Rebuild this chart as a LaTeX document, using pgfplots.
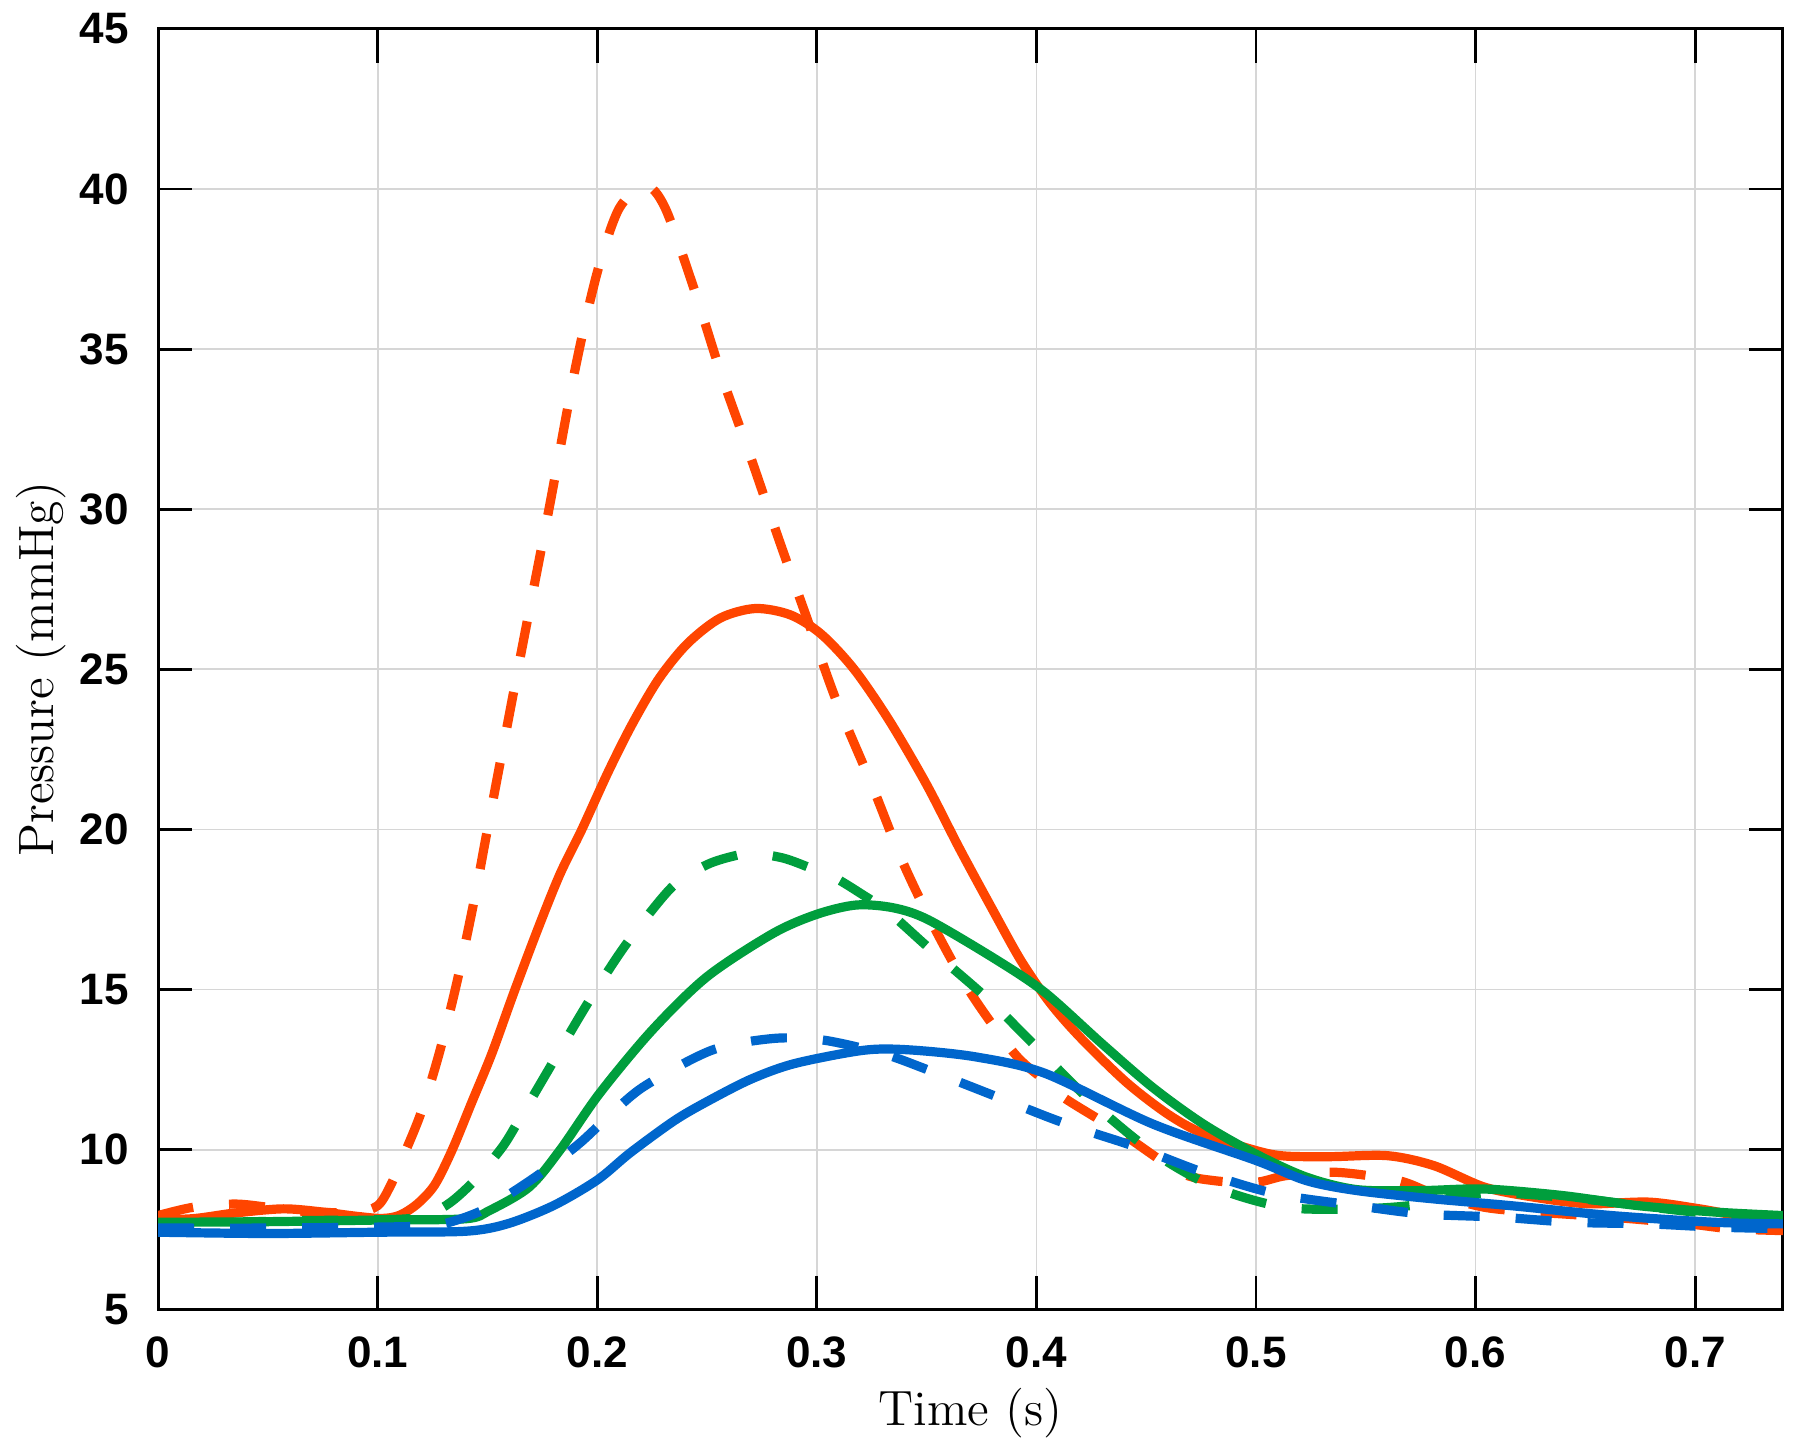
\documentclass[border=0pt]{standalone}
\usepackage{fontspec}
\usepackage{pgfplots}
\pgfplotsset{compat=1.18}
\newfontfamily\tickfont{Liberation Sans}
\definecolor{cRed}{RGB}{255,69,0}
\definecolor{cGreen}{RGB}{0,158,61}
\definecolor{cBlue}{RGB}{0,102,204}
\begin{document}
\begin{tikzpicture}
\begin{axis}[
  scale only axis, width=406pt, height=320pt,
  xmin=0, xmax=0.74, ymin=5, ymax=45,
  xtick={0,0.1,0.2,0.3,0.4,0.5,0.6,0.7},
  xticklabels={0,0.1,0.2,0.3,0.4,0.5,0.6,0.7},
  ytick={5,10,15,20,25,30,35,40,45},
  grid=major, major grid style={draw=black!16, line width=0.45pt},
  tick align=inside, major tick length=8.5pt,
  tick style={black, line width=0.7pt},
  axis line style={line width=0.75pt},
  /pgf/number format/assume math mode=true,
  ticklabel style={font=\tickfont\bfseries\fontsize{11}{13}\selectfont},
  xticklabel style={yshift=-3.3pt},
  yticklabel style={xshift=-3.8pt},
  xlabel={Time (s)}, ylabel={Pressure (mmHg)},
  label style={font=\fontsize{12.4}{15}\selectfont},
  xlabel style={at={([yshift=-29pt]axis description cs:0.5,0)}, anchor=base},
  ylabel style={at={([xshift=-26.25pt]axis description cs:0,0.5)}, anchor=base},
  every axis plot/.append style={line width=2.3pt, smooth, tension=0.5},
]
% red dashed
\addplot[cRed, dash pattern=on 9pt off 9pt] coordinates {
(0,7.94) (0.016,8.2) (0.035,8.3) (0.05,8.2) (0.07,8.05) (0.09,8.05) (0.1,8.25)
(0.106,8.9) (0.113,10.0) (0.12,11.2) (0.128,13.0) (0.136,15.2) (0.144,17.8)
(0.15,20.0) (0.165,25.4) (0.178,30.0) (0.19,34.4) (0.2,37.4) (0.21,39.4)
(0.222,40.1) (0.231,39.4) (0.244,36.9) (0.257,34.1) (0.27,31.6) (0.283,29.0)
(0.296,26.5) (0.309,24.0) (0.325,21.4) (0.339,19.0) (0.353,17.0) (0.37,14.9)
(0.39,13.0) (0.403,12.2) (0.413,11.6) (0.439,10.5) (0.465,9.3) (0.481,9.03)
(0.5,8.98) (0.514,9.19) (0.537,9.29) (0.565,9.03) (0.581,8.62) (0.604,8.2)
(0.627,8.05) (0.662,7.89) (0.697,7.68) (0.716,7.53) (0.74,7.47)
};
% red solid
\addplot[cRed] coordinates {
(0,7.8) (0.017,7.85) (0.035,8.02) (0.057,8.15) (0.075,8.05) (0.09,7.92)
(0.102,7.85) (0.11,7.95) (0.118,8.3) (0.126,8.9) (0.134,10.0) (0.143,11.5)
(0.152,13.0) (0.162,14.9) (0.173,16.9) (0.183,18.6) (0.193,20.0) (0.205,21.8)
(0.216,23.3) (0.228,24.7) (0.241,25.8) (0.256,26.6) (0.272,26.9) (0.288,26.7)
(0.302,26.1) (0.317,25.0) (0.333,23.4) (0.35,21.4) (0.365,19.4) (0.38,17.5)
(0.393,15.9) (0.406,14.6) (0.42,13.5) (0.441,12.1) (0.46,11.1) (0.476,10.5)
(0.5,9.97) (0.513,9.8) (0.534,9.78) (0.56,9.81) (0.581,9.5) (0.604,8.83)
(0.627,8.51) (0.651,8.31) (0.679,8.36) (0.702,8.15) (0.72,7.94) (0.74,7.85)
};
% green dashed
\addplot[cGreen, dash pattern=on 9pt off 9pt] coordinates {
(0,7.7) (0.03,7.72) (0.06,7.78) (0.09,7.8) (0.115,7.85) (0.127,8.1)
(0.135,8.45) (0.145,9.1) (0.157,10.1) (0.165,11.0) (0.177,12.4) (0.195,14.5)
(0.213,16.4) (0.234,18.2) (0.25,18.9) (0.264,19.2) (0.272,19.25) (0.285,19.1)
(0.297,18.8) (0.308,18.5) (0.32,18.0) (0.333,17.4) (0.351,16.3) (0.378,14.7)
(0.4,13.2) (0.425,11.5) (0.453,9.92) (0.481,8.83) (0.513,8.2) (0.546,8.15)
(0.57,8.25) (0.59,8.5) (0.61,8.65) (0.65,8.45) (0.7,8.05) (0.74,7.9)
};
% green solid
\addplot[cGreen] coordinates {
(0,7.73) (0.05,7.75) (0.1,7.8) (0.14,7.84) (0.151,8.1) (0.169,8.83)
(0.183,9.98) (0.201,11.75) (0.225,13.73) (0.25,15.4) (0.28,16.75)
(0.3,17.35) (0.318,17.64) (0.335,17.55) (0.351,17.17) (0.382,15.92)
(0.404,14.9) (0.43,13.3) (0.453,11.94) (0.476,10.8) (0.5,9.86) (0.523,9.14)
(0.546,8.75) (0.575,8.72) (0.604,8.77) (0.639,8.57) (0.674,8.25) (0.709,8.05)
(0.74,7.94)
};
% blue dashed
\addplot[cBlue, dash pattern=on 9pt off 9pt] coordinates {
(0,7.55) (0.05,7.55) (0.1,7.58) (0.125,7.63) (0.137,7.82) (0.149,8.15)
(0.165,8.83) (0.178,9.45) (0.192,10.2) (0.204,10.96) (0.221,11.96)
(0.252,13.1) (0.28,13.47) (0.303,13.42) (0.33,13.0) (0.351,12.48)
(0.382,11.65) (0.404,11.05) (0.42,10.65) (0.446,10.07) (0.476,9.29)
(0.509,8.62) (0.546,8.25) (0.576,7.99) (0.611,7.89) (0.644,7.73)
(0.679,7.68) (0.709,7.58) (0.74,7.53)
};
% blue solid
\addplot[cBlue] coordinates {
(0,7.42) (0.05,7.38) (0.1,7.42) (0.14,7.45) (0.159,7.68) (0.18,8.25)
(0.2,9.05) (0.215,9.9) (0.235,10.9) (0.25,11.5) (0.27,12.2) (0.29,12.69)
(0.321,13.1) (0.341,13.12) (0.372,12.9) (0.404,12.38) (0.453,10.8)
(0.5,9.66) (0.523,9.03) (0.546,8.72) (0.581,8.46) (0.616,8.25) (0.662,7.94)
(0.709,7.73) (0.74,7.68)
};
\end{axis}
\pgfresetboundingbox
\path[use as bounding box] ([shift={(-39.5pt,-35.25pt)}]current axis.south west) rectangle ([shift={(4.25pt,7.25pt)}]current axis.north east);
\end{tikzpicture}
\end{document}
